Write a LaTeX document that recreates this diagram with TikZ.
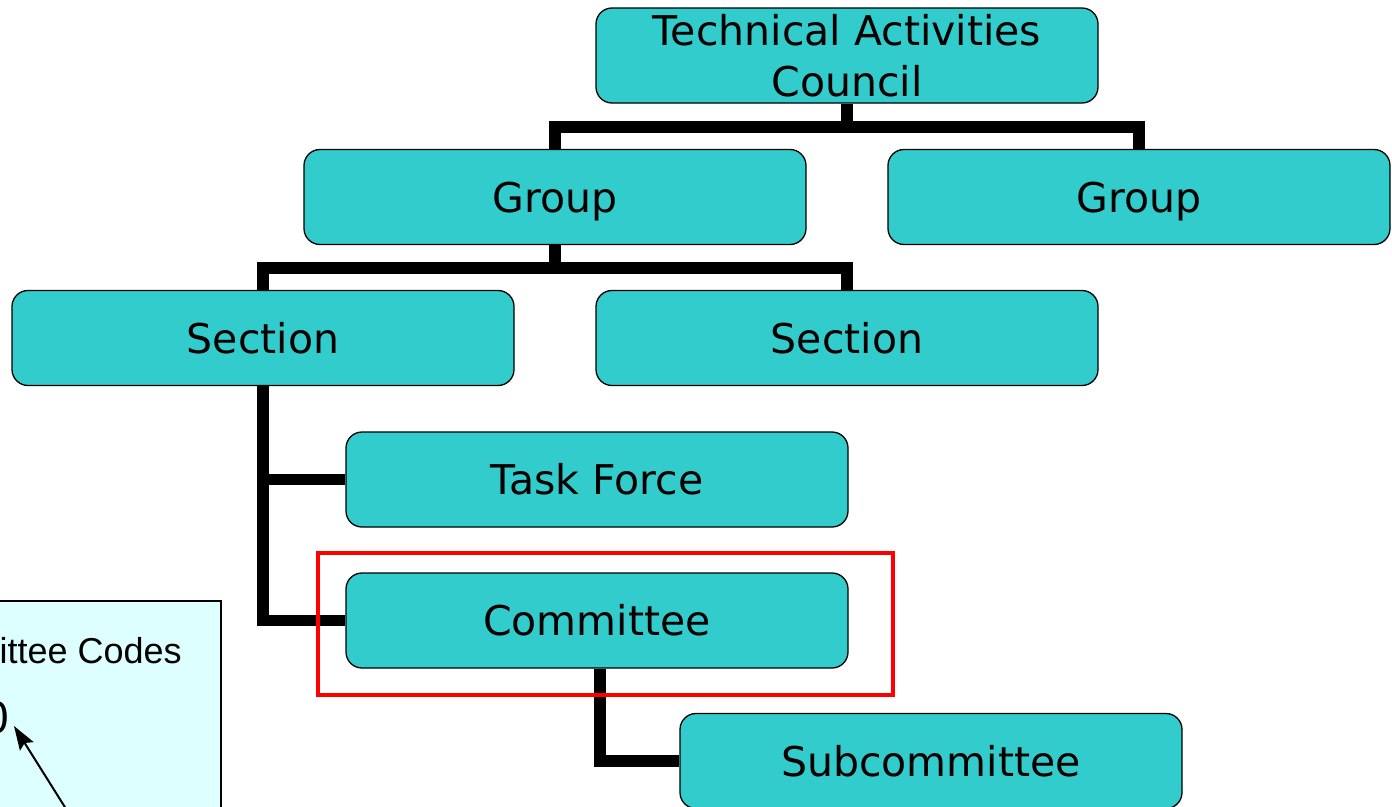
\documentclass[tikz,border=0pt]{standalone}
\usepackage{fontspec}
\newfontfamily\boxfont{DejaVu Sans}
\newfontfamily\legfont{Liberation Sans}
\usetikzlibrary{arrows.meta}
\definecolor{boxteal}{HTML}{33CCCC}
\definecolor{legcyan}{HTML}{DDFFFF}
\begin{document}
\begin{tikzpicture}[x=1pt,y=-1pt,
  orgbox/.style={draw=black, line width=1.3pt, fill=boxteal, rounded corners=16pt,
    minimum width=502pt, minimum height=95pt, inner sep=0pt,
    font={\boxfont\fontsize{41}{51}\selectfont}, text height=30pt, text depth=0pt},
  conn/.style={line width=11.5pt, line join=miter, draw=black},
  hilite/.style={draw=red, line width=4.5pt},
  legbox/.style={draw=black, line width=2pt, fill=legcyan},
  legtext/.style={font={\legfont\fontsize{36}{42}\selectfont}, inner sep=0pt},
  pointer/.style={line width=2pt, -{Stealth[length=24pt,width=16pt,inset=4pt]}}]
\useasboundingbox (0,0) rectangle (1392,806);
\fill[white] (0,0) rectangle (1392,806);

% boxes
\node[orgbox, align=center, text height=, text depth=] (tac) at (847,55.5) {Technical Activities\\Council};
\node[orgbox] (g1) at (555,197) {Group};
\node[orgbox] (g2) at (1139,197) {Group};
\node[orgbox] (s1) at (263,338) {Section};
\node[orgbox] (s2) at (847,338) {Section};
\node[orgbox] (tf) at (597,479.5) {Task Force};
\node[orgbox] (cm) at (597,620.5) {Committee};
\node[orgbox] (sc) at (931,761) {Subcommittee};

% connectors
\coordinate (j1) at (847,127);
\draw[conn] (tac.south) -- (j1);
\draw[conn] (g1.north) -- (g1.north |- j1) -- (g2.north |- j1) -- (g2.north);
\coordinate (j2) at (555,268);
\draw[conn] (g1.south) -- (j2);
\draw[conn] (s1.north) -- (s1.north |- j2) -- (s2.north |- j2) -- (s2.north);
\draw[conn] (s1.south) |- (cm.west);
\draw[conn] (s1.south |- tf.west) -- (tf.west);
\draw[conn] ([xshift=3pt]cm.south) |- (sc.west);

% highlight around committee
\node[hilite, minimum width=575pt, minimum height=142pt, inner sep=0pt] (hl) at (605.5,624) {};

% legend box (partly outside the page)
\node[legbox, minimum width=260pt, minimum height=240pt, anchor=north east, inner sep=0pt] (leg) at (222,600) {};
\node[legtext, anchor=base east] (legtitle) at (182,663) {Committee Codes};
\node[font={\legfont\fontsize{46}{52}\selectfont}, inner sep=0pt, anchor=base east] (zero) at (9,733) {0};
\coordinate (ptrstart) at (68,812);
\coordinate (ptrend) at (14,726);
\draw[pointer] (ptrstart) -- (ptrend);
\end{tikzpicture}
\end{document}
